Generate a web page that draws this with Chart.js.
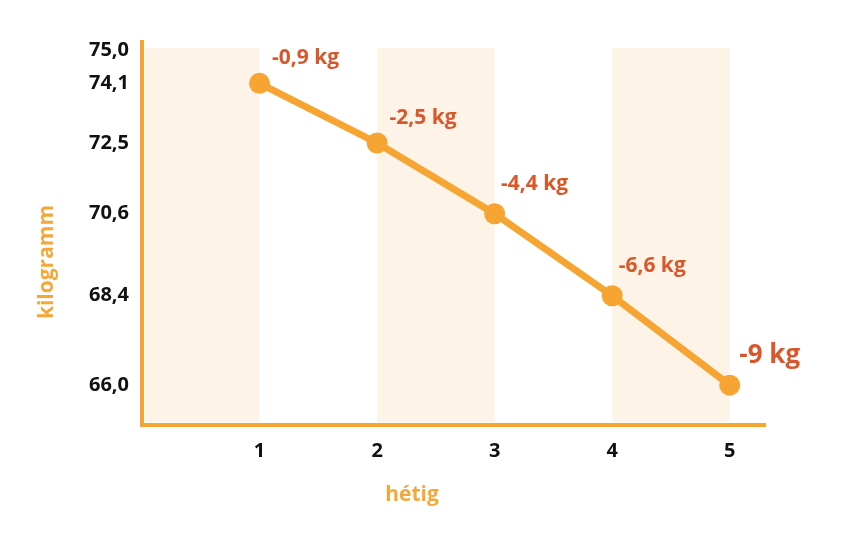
<!DOCTYPE html>
<html>
<head>
<meta charset="utf-8">
<script src="https://cdn.jsdelivr.net/npm/chart.js@4"></script>
<style>
  html, body { margin: 0; padding: 0; background: #fff; }
  #wrap { width: 850px; height: 552px; }
</style>
</head>
<body>
<div id="wrap"><canvas id="chart" width="850" height="552"></canvas></div>
<script>
// --- Data ---
const weeks = [1, 2, 3, 4, 5];
const weights = [74.1, 72.5, 70.6, 68.4, 66.0];
const losses = [-0.9, -2.5, -4.4, -6.6, -9];
const yTicks = [75.0, 74.1, 72.5, 70.6, 68.4, 66.0];
const bands = [[0, 1], [2, 3], [4, 5]];

// --- Colours ---
const orange = "#f6a432";
const titleOrange = "#f5a83a";
const labelRed = "#d9582b";
const bandColor = "#fdf4e7";
const font = "'Open Sans', 'Noto Sans', sans-serif";

const fmt = (v) => v.toFixed(1).replace(".", ",");
const lossText = (v) => (Number.isInteger(v) ? String(v) : v.toFixed(1).replace(".", ",")) + " kg";

// background bands behind the line
const bandPlugin = {
  id: "bands",
  beforeDatasetsDraw(chart) {
    const { ctx, chartArea, scales } = chart;
    ctx.save();
    ctx.fillStyle = bandColor;
    bands.forEach(([a, b]) => {
      const x1 = Math.max(scales.x.getPixelForValue(a), chartArea.left + 3);
      const x2 = scales.x.getPixelForValue(b);
      ctx.fillRect(x1, chartArea.top + 6, x2 - x1, chartArea.bottom - chartArea.top - 9);
    });
    ctx.restore();
  },
};

// loss labels next to each point + axis titles
const labelPlugin = {
  id: "labels",
  afterDatasetsDraw(chart) {
    const { ctx } = chart;
    const meta = chart.getDatasetMeta(0);
    ctx.save();
    ctx.fillStyle = labelRed;
    ctx.textAlign = "center";
    ctx.textBaseline = "middle";
    meta.data.forEach((pt, i) => {
      const last = i === meta.data.length - 1;
      ctx.font = (last ? "bold 26px " : "bold 21px ") + font;
      const dx = i < 2 ? 46 : 40;
      const dy = i < 2 ? -25 : -30;
      ctx.fillText(lossText(losses[i]), pt.x + dx, pt.y + dy);
    });

    // axis titles
    ctx.fillStyle = titleOrange;
    ctx.font = "bold 21px " + font;
    ctx.fillText("hétig", 412, 495);
    ctx.translate(47, 262);
    ctx.rotate(-Math.PI / 2);
    ctx.fillText("kilogramm", 0, 0);
    ctx.restore();
  },
};

const chart = new Chart(document.getElementById("chart"), {
  type: "line",
  data: {
    datasets: [
      {
        data: weeks.map((w, i) => ({ x: w, y: weights[i] })),
        borderColor: orange,
        backgroundColor: orange,
        borderWidth: 7,
        pointRadius: 10.5,
        pointHoverRadius: 10.5,
        pointBorderWidth: 0,
        tension: 0,
      },
    ],
  },
  options: {
    responsive: false,
    animation: false,
    layout: { padding: { top: 42, right: 85, left: 0, bottom: 0 } },
    plugins: { legend: { display: false }, tooltip: { enabled: false } },
    scales: {
      x: {
        type: "linear",
        min: 0,
        max: 5.3,
        afterFit: (s) => { s.height = 127; },
        afterBuildTicks: (s) => { s.ticks = weeks.map((v) => ({ value: v })); },
        grid: { display: false, drawTicks: false },
        border: { color: orange, width: 4 },
        ticks: {
          padding: 14,
          color: "#111",
          font: { family: font, size: 20, weight: "bold" },
        },
      },
      y: {
        type: "linear",
        min: 64.93,
        max: 75.21,
        afterFit: (s) => { s.width = 142; },
        afterBuildTicks: (s) => { s.ticks = yTicks.map((v) => ({ value: v })); },
        grid: { display: false, drawTicks: false },
        border: { color: orange, width: 4 },
        ticks: {
          padding: 13,
          color: "#111",
          font: { family: font, size: 20, weight: "bold" },
          callback: (v) => fmt(v),
        },
      },
    },
  },
  plugins: [bandPlugin, labelPlugin],
});
</script>
</body>
</html>
